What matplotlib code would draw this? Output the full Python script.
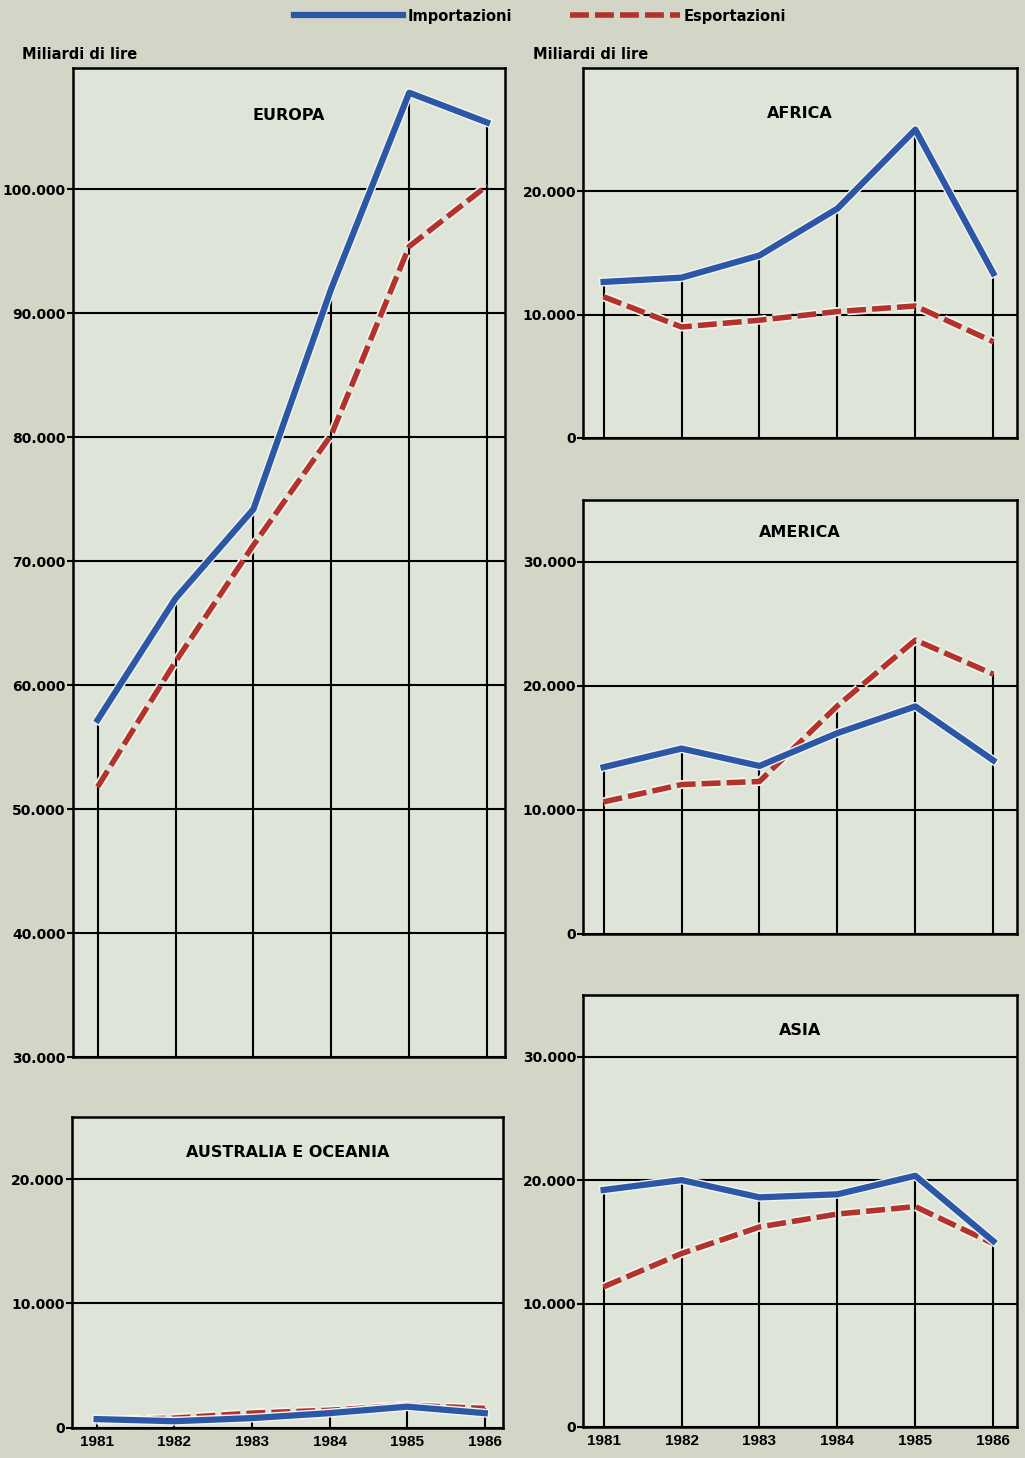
import matplotlib.pyplot as plt
import matplotlib.patheffects as pe
from matplotlib.lines import Line2D
from matplotlib.ticker import FuncFormatter

years = [1981, 1982, 1983, 1984, 1985, 1986]

# miliardi di lire
europa_imp = [57200, 67000, 74200, 92000, 107800, 105400]
europa_exp = [51800, 61900, 71300, 80200, 95400, 100300]
africa_imp = [12650, 13000, 14800, 18600, 25000, 13350]
africa_exp = [11450, 9000, 9550, 10250, 10700, 7800]
america_imp = [13450, 14950, 13550, 16200, 18350, 14000]
america_exp = [10650, 12050, 12300, 18400, 23700, 20950]
asia_imp = [19200, 20000, 18600, 18850, 20350, 15050]
asia_exp = [11350, 14050, 16200, 17250, 17850, 14850]
oceania_imp = [690, 520, 770, 1170, 1690, 1170]
oceania_exp = [600, 770, 1170, 1400, 1800, 1550]

BLUE = '#2c57a6'
RED = '#b3322b'
FIG_BG = '#d3d5c6'
AX_BG = '#dfe4d8'
HALO = '#f3f5ef'

fmt = FuncFormatter(lambda v, p: f"{int(v):,}".replace(",", "."))

fig = plt.figure(figsize=(10.25, 14.58), dpi=100, facecolor=FIG_BG)


def panel(rect, imp, exp, title, ylim, yticks, title_y, xlim, xlabels=False):
    ax = fig.add_axes(rect, facecolor=AX_BG)
    ax.set_xlim(*xlim)
    ax.set_ylim(*ylim)
    ax.set_yticks(yticks)
    ax.yaxis.set_major_formatter(fmt)
    ax.grid(axis='y', color='black', lw=1.5, zorder=1)
    ax.set_axisbelow(True)
    top = [max(a, b) for a, b in zip(imp, exp)]
    ax.vlines(years, ylim[0], top, color='black', lw=1.5, zorder=1)
    halo = [pe.Stroke(linewidth=6.5, foreground=HALO), pe.Normal()]
    ax.plot(years, exp, color=RED, lw=4.0, dashes=(3.4, 1.1),
            path_effects=halo, zorder=3)
    ax.plot(years, imp, color=BLUE, lw=4.5, path_effects=halo, zorder=4)
    for s in ax.spines.values():
        s.set_linewidth(1.8)
    ax.tick_params(axis='y', length=4, width=1.5, pad=1, labelsize=10)
    ax.set_xticks(years)
    if xlabels:
        ax.tick_params(axis='x', length=0, pad=5, labelsize=11)
        for t in ax.get_xticklabels():
            t.set_fontfamily('Liberation Sans')
            t.set_fontweight('bold')
    else:
        ax.tick_params(axis='x', length=0, labelbottom=False)
    for t in ax.get_yticklabels():
        t.set_fontweight('bold')
    ax.text(0.5, title_y, title, transform=ax.transAxes, ha='center',
            va='center', fontsize=11.5, fontweight='bold', zorder=5)
    return ax


xl_left = (1980.68, 1986.23)
xl_right = (1980.74, 1986.30)

panel([0.0709, 0.2750, 0.4218, 0.6784], europa_imp, europa_exp, 'EUROPA',
      (30000, 109800), range(30000, 100001, 10000), 0.952, xl_left)
panel([0.0700, 0.0208, 0.4204, 0.2131], oceania_imp, oceania_exp,
      'AUSTRALIA E OCEANIA', (0, 25000), [0, 10000, 20000], 0.887,
      xl_left, xlabels=True)
panel([0.5691, 0.6996, 0.4228, 0.2538], africa_imp, africa_exp, 'AFRICA',
      (0, 30000), [0, 10000, 20000], 0.878, xl_right)
panel([0.5691, 0.3594, 0.4228, 0.2977], america_imp, america_exp, 'AMERICA',
      (0, 35000), [0, 10000, 20000, 30000], 0.926, xl_right)
panel([0.5691, 0.0213, 0.4228, 0.2963], asia_imp, asia_exp, 'ASIA',
      (0, 35000), [0, 10000, 20000, 30000], 0.917, xl_right, xlabels=True)

fig.text(0.0215, 0.9623, 'Miliardi di lire', fontsize=10.5, fontweight='bold', va='center')
fig.text(0.520, 0.9623, 'Miliardi di lire', fontsize=10.5, fontweight='bold', va='center')

handles = [Line2D([], [], color=BLUE, lw=4.5),
           Line2D([], [], color=RED, lw=4.0, dashes=(3.4, 1.1))]
fig.legend(handles, ['Importazioni', 'Esportazioni'], loc='center',
           bbox_to_anchor=(0.527, 0.989), ncol=2, frameon=False,
           handlelength=7.5, columnspacing=4.0, handletextpad=0.3,
           prop={'weight': 'bold', 'size': 10.5})

fig.savefig('out.png', dpi=100, facecolor=FIG_BG)
